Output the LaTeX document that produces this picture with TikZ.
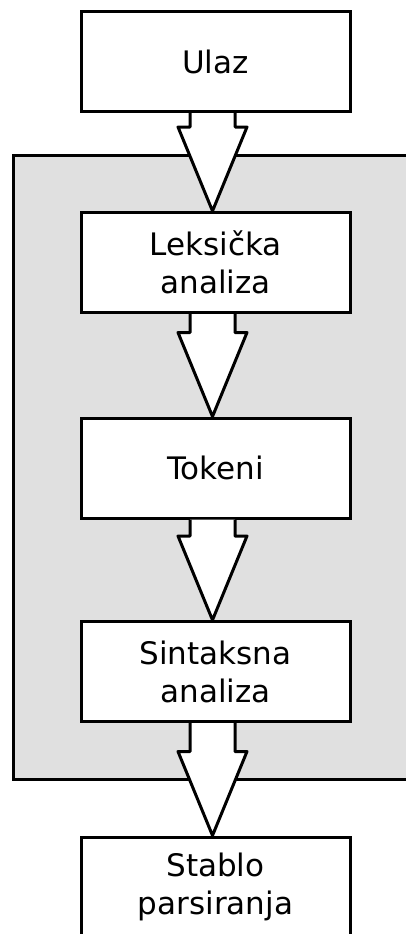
\documentclass[tikz,border=0pt]{standalone}
\usepackage{fontspec}
\setmainfont{DejaVu Sans}
\usetikzlibrary{calc}

\tikzset{
  stagebox/.style={draw, line width=3pt, fill=white, minimum width=269pt,
    minimum height=100pt, align=center, font=\fontsize{31}{38}\selectfont},
  fatarrow/.style={draw, line width=3pt, fill=white, line join=round},
}

% hollow block arrow from one stage to the next
\newcommand{\stagearrow}[2]{%
  \path[fatarrow] let \p1=($(#1.south)+(-3pt,0)$), \p2=($(#2.north)+(-3pt,0)$) in
    (\x1-22.5pt,\y1) -- (\x1-22.5pt,\y2+84pt) -- (\x1-34.5pt,\y2+84pt) -- (\x2,\y2)
    -- (\x1+34.5pt,\y2+84pt) -- (\x1+22.5pt,\y2+84pt) -- (\x1+22.5pt,\y1);
}

\begin{document}
\begin{tikzpicture}[x=1pt, y=-1pt]
\clip (0,0) rectangle (406,934);
\useasboundingbox (0,0) rectangle (406,934);

% front-end block
\draw[line width=3pt, fill=black!12] (13,155) rectangle (430,779);

\node[stagebox] (ulaz) at (215.5,61.5) {Ulaz};
\node[stagebox] (leksicka) at (215.5,262.5) {Leksička\\analiza};
\node[stagebox] (tokeni) at (215.5,468) {Tokeni};
\node[stagebox] (sintaksna) at (215.5,671.5) {Sintaksna\\analiza};
\node[stagebox] (stablo) at (215.5,887) {Stablo\\parsiranja};

\stagearrow{ulaz}{leksicka}
\stagearrow{leksicka}{tokeni}
\stagearrow{tokeni}{sintaksna}
\stagearrow{sintaksna}{stablo}

\end{tikzpicture}
\end{document}
